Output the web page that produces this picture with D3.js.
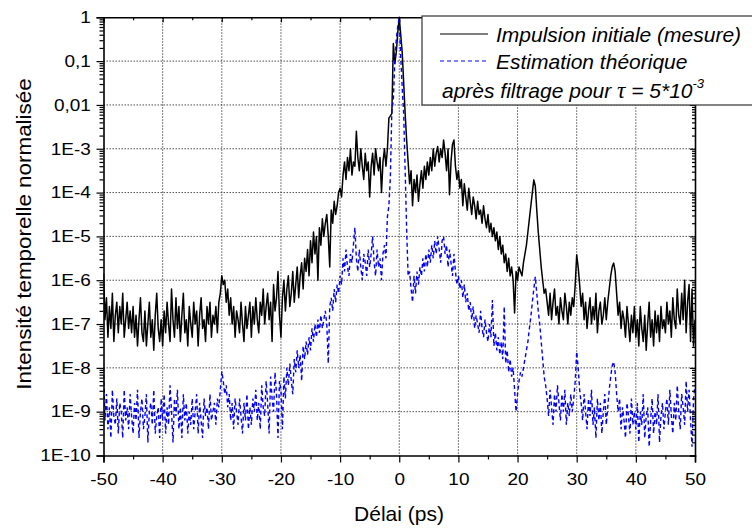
<!DOCTYPE html>
<html>
<head>
<meta charset="utf-8">
<script src="https://cdn.jsdelivr.net/npm/d3@7"></script>
<style>
  body { margin: 0; background: #fff; }
  svg { display: block; font-family: "Liberation Sans", Arial, sans-serif; }
</style>
</head>
<body>
<div id="chart"></div>
<script>
// delay grid of the recording (ps)
const delayStart = -50;
const delayStep = 0.25;

const measureLog = [
  -5.85, -6.9, -6.4, -7.3, -6.6, -7.1, -6.3, -7.4, -6.8, -6.5, -7.2, -6.6, -7.0, -6.3, -7.3, -6.9, -6.5, -7.1, -6.7, -7.2,
  -6.6, -7.3, -6.8, -7.5, -6.9, -6.4, -7.2, -7.4, -6.7, -7.5, -7.0, -6.5, -7.3, -6.9, -7.6, -6.8, -6.3, -7.1, -7.4, -6.9,
  -7.5, -6.7, -7.2, -6.5, -7.0, -7.4, -6.2, -6.9, -7.3, -6.4, -7.1, -6.6, -7.4, -6.8, -6.3, -7.2, -6.9, -7.5, -6.6, -7.0,
  -7.3, -6.5, -7.0, -6.7, -7.5, -6.8, -6.4, -7.1, -6.9, -7.4, -6.6, -7.0, -6.5, -7.3, -6.8, -7.0, -6.6, -7.2, -6.5, -6.3,
  -5.9, -6.1, -6.0, -6.5, -6.2, -6.8, -6.4, -7.0, -6.6, -7.3, -6.7, -6.9, -7.2, -6.5, -7.0, -7.4, -6.6, -7.1, -6.8, -6.5,
  -7.3, -6.6, -7.0, -6.4, -6.9, -7.2, -6.5, -6.8, -6.2, -7.0, -6.6, -6.3, -6.9, -6.5, -7.4, -6.1, -6.7, -6.4, -5.8, -6.8,
  -7.3, -6.4, -6.0, -6.7, -6.2, -5.9, -6.6, -6.3, -5.8, -6.5, -6.1, -5.7, -6.4, -5.9, -5.6, -6.2, -5.5, -5.8, -5.3, -5.9,
  -5.1, -5.6, -4.9, -5.4, -5.0, -6.0, -4.8, -5.2, -4.6, -5.0, -4.7, -4.5, -5.0, -5.7, -4.4, -4.7, -4.2, -4.5, -4.3, -4.0,
  -3.9, -4.1, -3.6, -3.3, -3.7, -3.2, -3.5, -3.0, -3.6, -3.3, -3.4, -2.6, -3.2, -3.5, -3.0, -3.4, -3.7, -3.1, -3.5, -3.3,
  -4.1, -3.4, -3.1, -3.6, -3.0, -3.3, -3.5, -3.2, -4.0, -3.3, -3.0, -3.4, -3.0, -2.3, -2.25, -2.2, -0.6, -1.05, -0.8, -0.35,
  0, -0.4, -0.8, -1.5, -2.2, -2.8, -3.3, -3.8, -3.5, -4.3, -3.7, -4.0, -3.6, -4.2, -3.8, -3.5, -3.9, -3.4, -3.7, -3.3,
  -3.6, -3.2, -3.5, -3.0, -3.4, -3.1, -2.95, -3.3, -3.0, -3.2, -2.8, -3.1, -3.5, -3.0, -4.05, -3.3, -2.9, -2.8, -3.4, -3.7,
  -3.5, -3.9, -3.7, -4.3, -3.8, -4.1, -4.4, -3.9, -4.2, -4.5, -4.1, -4.3, -4.6, -4.2, -4.5, -4.4, -4.7, -4.3, -4.6, -4.8,
  -4.5, -4.9, -4.7, -5.0, -4.8, -5.1, -4.9, -5.3, -5.0, -5.4, -5.2, -5.6, -5.4, -5.8, -5.5, -5.9, -5.7, -6.0, -6.75, -5.8,
  -6.0, -5.7, -5.8, -5.9, -5.6, -5.4, -5.2, -4.9, -4.6, -4.3, -4.0, -3.71, -3.85, -4.4, -4.9, -5.3, -5.7, -6.0, -6.3, -6.2,
  -6.5, -6.8, -6.3, -6.9, -6.5, -6.2, -6.8, -6.6, -7.0, -6.4, -6.7, -6.9, -6.3, -6.6, -7.0, -6.5, -6.8, -6.4, -6.6, -6.1,
  -5.42, -5.7, -6.1, -6.6, -6.3, -6.9, -6.5, -7.1, -6.7, -6.4, -7.0, -6.6, -6.9, -6.3, -7.2, -6.7, -6.5, -7.0, -6.8, -6.4,
  -6.9, -6.5, -6.2, -5.9, -5.7, -5.61, -5.8, -6.3, -6.8, -6.5, -7.1, -6.7, -6.9, -7.3, -6.6, -7.0, -7.4, -6.8, -7.2, -6.6,
  -7.3, -6.9, -7.5, -6.6, -7.1, -7.4, -6.8, -7.6, -7.0, -6.5, -7.3, -6.9, -7.5, -6.7, -7.2, -6.8, -7.4, -6.6, -7.1, -6.9,
  -7.2, -6.5, -7.0, -6.7, -7.3, -6.4, -6.9, -7.1, -6.2, -6.8, -7.0, -6.3, -6.9, -6.0, -7.2, -6.5, -6.1, -7.4, -6.2, -7.5, -6.9
];

// log10 of theoretical estimate after filtering
const theoryLog = [
  -8.0, -9.2, -8.6, -9.4, -8.9, -9.6, -8.5, -9.1, -9.3, -8.7, -9.5, -8.8, -9.0, -9.6, -8.5, -9.2, -8.9, -9.4, -8.6, -9.1,
  -9.5, -8.8, -9.2, -8.5, -9.6, -9.0, -8.7, -9.4, -9.1, -8.6, -9.7, -9.0, -8.8, -9.3, -8.5, -9.5, -9.1, -8.9, -9.6, -8.7,
  -9.2, -8.6, -9.5, -8.9, -9.3, -8.4, -9.0, -9.7, -8.7, -9.1, -8.5, -9.4, -8.9, -9.6, -8.6, -9.2, -8.8, -9.5, -9.0, -9.3,
  -8.7, -9.4, -9.0, -8.6, -9.5, -8.8, -9.2, -9.6, -8.7, -9.1, -8.9, -9.4, -8.6, -9.2, -9.0, -8.8, -9.3, -8.7, -8.9, -8.5,
  -8.08, -8.3, -8.6, -8.4, -8.9, -8.6, -9.2, -8.8, -9.4, -8.7, -9.0, -9.3, -8.7, -9.1, -9.5, -8.8, -9.2, -8.6, -9.4, -8.9,
  -9.3, -8.7, -9.0, -8.5, -9.2, -8.8, -9.4, -8.4, -8.9, -9.1, -8.3, -8.8, -9.5, -8.2, -8.7, -9.0, -8.1, -8.6, -9.6, -8.3,
  -8.5, -9.4, -8.2, -8.7, -8.0, -8.4, -7.9, -8.3, -8.6, -7.8, -8.1, -7.6, -8.0, -7.7, -8.3, -7.5, -7.8, -7.4, -7.7, -7.3,
  -7.6, -7.1, -7.4, -7.0, -7.3, -6.9, -7.2, -6.8, -7.1, -6.9, -6.7, -7.0, -7.9, -6.6, -6.4, -6.7, -6.2, -6.5, -6.1, -6.3,
  -5.9, -6.1, -5.5, -5.8, -5.3, -5.7, -5.9, -5.4, -5.6, -5.2, -4.8, -5.5, -5.8, -5.3, -5.7, -6.0, -5.4, -5.6, -5.9, -5.3,
  -5.7, -5.4, -5.0, -5.6, -5.9, -5.3, -5.7, -5.5, -6.0, -5.4, -5.2, -5.5, -4.55, -4.3, -3.64, -2.11, -1.9, -1.0, -0.5, -0.2,
  0, -0.9, -1.6, -2.2, -3.5, -4.85, -5.9, -5.8, -6.2, -6.5, -5.9, -6.3, -5.8, -6.1, -5.7, -5.9, -5.5, -5.8, -5.4, -5.7,
  -5.3, -5.6, -5.2, -5.5, -5.1, -5.4, -5.0, -5.3, -5.6, -5.1, -5.0, -5.4, -5.2, -5.7, -5.3, -5.6, -5.9, -5.4, -5.8, -6.1,
  -5.9, -6.2, -6.0, -6.4, -6.1, -6.5, -6.3, -6.7, -6.5, -6.9, -6.6, -7.1, -6.8, -7.0, -7.2, -6.7, -7.1, -7.3, -6.9, -7.2,
  -7.4, -7.0, -7.3, -6.45, -7.5, -7.2, -7.6, -7.3, -7.7, -7.4, -7.8, -6.6, -7.9, -7.6, -8.1, -7.8, -8.2, -8.0, -8.5, -9.0,
  -8.6, -8.3, -8.1, -8.2, -8.0, -7.8, -7.6, -7.4, -7.1, -6.83, -6.5, -6.2, -5.92, -6.3, -6.7, -7.0, -7.4, -7.8, -8.2, -8.4,
  -8.7, -9.1, -8.5, -8.9, -9.3, -8.6, -9.0, -8.4, -8.8, -9.2, -8.6, -9.0, -8.5, -9.3, -8.8, -9.1, -8.6, -9.0, -8.7, -8.3,
  -7.63, -8.0, -8.5, -8.8, -9.2, -8.6, -9.0, -9.4, -8.7, -9.1, -8.5, -9.3, -8.9, -9.6, -8.7, -9.2, -8.8, -9.5, -9.0, -8.6,
  -9.3, -8.9, -8.5, -8.2, -7.95, -7.86, -8.1, -8.6, -9.0, -8.7, -9.4, -8.9, -9.2, -9.6, -8.8, -9.1, -9.5, -8.7, -9.3, -9.0,
  -9.4, -8.8, -9.7, -9.0, -9.3, -8.6, -9.6, -9.1, -8.9, -9.8, -9.2, -8.7, -9.5, -9.0, -9.3, -8.6, -9.7, -9.1, -8.8, -9.4,
  -9.0, -8.7, -9.3, -8.5, -9.1, -9.5, -8.8, -9.2, -8.4, -9.0, -9.4, -8.6, -8.9, -9.3, -8.3, -9.0, -8.5, -9.2, -9.8, -8.7, -8.4
];

const xTicks = [-50, -40, -30, -20, -10, 0, 10, 20, 30, 40, 50];
const xMinorTicks = [-45, -35, -25, -15, -5, 5, 15, 25, 35, 45];
const yTicks = [1e-10, 1e-9, 1e-8, 1e-7, 1e-6, 1e-5, 1e-4, 1e-3, 1e-2, 1e-1, 1];
const yTickLabels = ["1E-10", "1E-9", "1E-8", "1E-7", "1E-6", "1E-5", "1E-4", "1E-3", "0,01", "0,1", "1"];
const minorMantissas = [2, 3, 4, 5, 6, 7, 8, 9];

const width = 752, height = 529;
const plot = { left: 103.5, right: 695, top: 17.3, bottom: 455.5 };

const svg = d3.select("#chart").append("svg")
  .attr("width", width)
  .attr("height", height);

const x = d3.scaleLinear().domain([-50, 50]).range([plot.left, plot.right]);
const y = d3.scaleLog().domain([1e-10, 1]).range([plot.bottom, plot.top]);

const delays = measureLog.map((_, i) => delayStart + i * delayStep);
const measure = measureLog.map((v, i) => ({ t: delays[i], v: Math.pow(10, v) }));
const theory = theoryLog.map((v, i) => ({ t: delays[i], v: Math.pow(10, v) }));

const minorY = [];
yTicks.slice(0, -1).forEach(d => minorMantissas.forEach(m => minorY.push(d * m)));

// grid
const grid = svg.append("g")
  .attr("stroke", "#222")
  .attr("stroke-width", 0.8)
  .attr("stroke-dasharray", "1.5,1.5");
grid.selectAll(".gx").data(xTicks.slice(1, -1)).enter().append("line")
  .attr("x1", d => x(d)).attr("x2", d => x(d))
  .attr("y1", plot.top).attr("y2", plot.bottom);
grid.selectAll(".gy").data(yTicks.slice(1, -1)).enter().append("line")
  .attr("x1", plot.left).attr("x2", plot.right)
  .attr("y1", d => y(d)).attr("y2", d => y(d));

svg.append("clipPath").attr("id", "clip")
  .append("rect")
  .attr("x", plot.left).attr("y", plot.top - 2)
  .attr("width", plot.right - plot.left).attr("height", plot.bottom - plot.top + 2);

const line = d3.line().x(d => x(d.t)).y(d => y(d.v));

svg.append("path")
  .datum(measure)
  .attr("clip-path", "url(#clip)")
  .attr("fill", "none")
  .attr("stroke", "#000")
  .attr("stroke-width", 1.5)
  .attr("stroke-linejoin", "round")
  .attr("d", line);

svg.append("path")
  .datum(theory)
  .attr("clip-path", "url(#clip)")
  .attr("fill", "none")
  .attr("stroke", "#0000ff")
  .attr("stroke-width", 1.4)
  .attr("stroke-dasharray", "4,3")
  .attr("d", line);

// axes
const stretch = 1.15;

const axisBottomG = svg.append("g")
  .attr("transform", `translate(0,${plot.bottom})`)
  .call(d3.axisBottom(x).tickValues(xTicks).tickSize(7).tickFormat(d => String(d)));
axisBottomG.selectAll(".tick text")
  .attr("y", 18)
  .attr("transform", `scale(${stretch},1)`);
svg.append("g")
  .attr("transform", `translate(0,${plot.bottom})`)
  .call(d3.axisBottom(x).tickValues(xMinorTicks).tickSize(4).tickFormat(""))
  .select(".domain").remove();

svg.append("g")
  .attr("transform", `translate(0,${plot.top})`)
  .call(d3.axisBottom(x).tickValues(xTicks).tickSize(5).tickFormat(""));
svg.append("g")
  .attr("transform", `translate(0,${plot.top})`)
  .call(d3.axisBottom(x).tickValues(xMinorTicks).tickSize(3).tickFormat(""))
  .select(".domain").remove();

const axisLeftG = svg.append("g")
  .attr("transform", `translate(${plot.left},0)`)
  .call(d3.axisLeft(y).tickValues(yTicks).tickSize(7).tickFormat((d, i) => yTickLabels[i]));
axisLeftG.selectAll(".tick text")
  .attr("x", -11)
  .attr("transform", `scale(${stretch},1)`);
svg.append("g")
  .attr("transform", `translate(${plot.left},0)`)
  .call(d3.axisLeft(y).tickValues(minorY).tickSize(4).tickFormat(""))
  .select(".domain").remove();

svg.append("g")
  .attr("transform", `translate(${plot.right},0)`)
  .call(d3.axisLeft(y).tickValues(yTicks).tickSize(5).tickFormat(""));
svg.append("g")
  .attr("transform", `translate(${plot.right},0)`)
  .call(d3.axisLeft(y).tickValues(minorY).tickSize(3).tickFormat(""))
  .select(".domain").remove();

svg.selectAll(".domain").attr("stroke", "#000").attr("stroke-width", 1.6);
svg.selectAll(".tick line").attr("stroke", "#000").attr("stroke-width", 1.2);
svg.selectAll(".tick text")
  .attr("font-family", "'Liberation Sans', Arial, sans-serif")
  .attr("font-size", 16.5)
  .attr("fill", "#000");

// axis titles
svg.append("text")
  .attr("x", 399).attr("y", 521)
  .attr("text-anchor", "middle")
  .attr("font-size", 21)
  .text("Délai (ps)");

svg.append("text")
  .attr("transform", "translate(31,234) rotate(-90) scale(1.15,1)")
  .attr("text-anchor", "middle")
  .attr("font-size", 19.5)
  .text("Intensité temporelle normalisée");

// legend
const legend = svg.append("g");
legend.append("rect")
  .attr("x", 422).attr("y", 16)
  .attr("width", 340).attr("height", 89)
  .attr("fill", "#fff")
  .attr("stroke", "#333")
  .attr("stroke-width", 1.2);
legend.append("line")
  .attr("x1", 440).attr("x2", 488).attr("y1", 34).attr("y2", 34)
  .attr("stroke", "#000").attr("stroke-width", 1.2);
legend.append("line")
  .attr("x1", 440).attr("x2", 488).attr("y1", 61).attr("y2", 61)
  .attr("stroke", "#0000ff").attr("stroke-width", 1.2)
  .attr("stroke-dasharray", "4,3");
legend.append("text")
  .attr("x", 496).attr("y", 41.5)
  .attr("font-size", 21).attr("font-style", "italic")
  .text("Impulsion initiale (mesure)");
legend.append("text")
  .attr("x", 496).attr("y", 68.5)
  .attr("font-size", 21).attr("font-style", "italic")
  .text("Estimation théorique");
const note = legend.append("text")
  .attr("x", 442).attr("y", 98)
  .attr("font-size", 21).attr("font-style", "italic");
note.append("tspan").text("après filtrage pour ");
note.append("tspan").attr("font-family", "'Liberation Serif', serif").attr("font-size", 23).text("τ");
note.append("tspan").text(" = 5*10");
note.append("tspan").attr("font-size", 13).attr("dy", -10).text("-3");
</script>
</body>
</html>
